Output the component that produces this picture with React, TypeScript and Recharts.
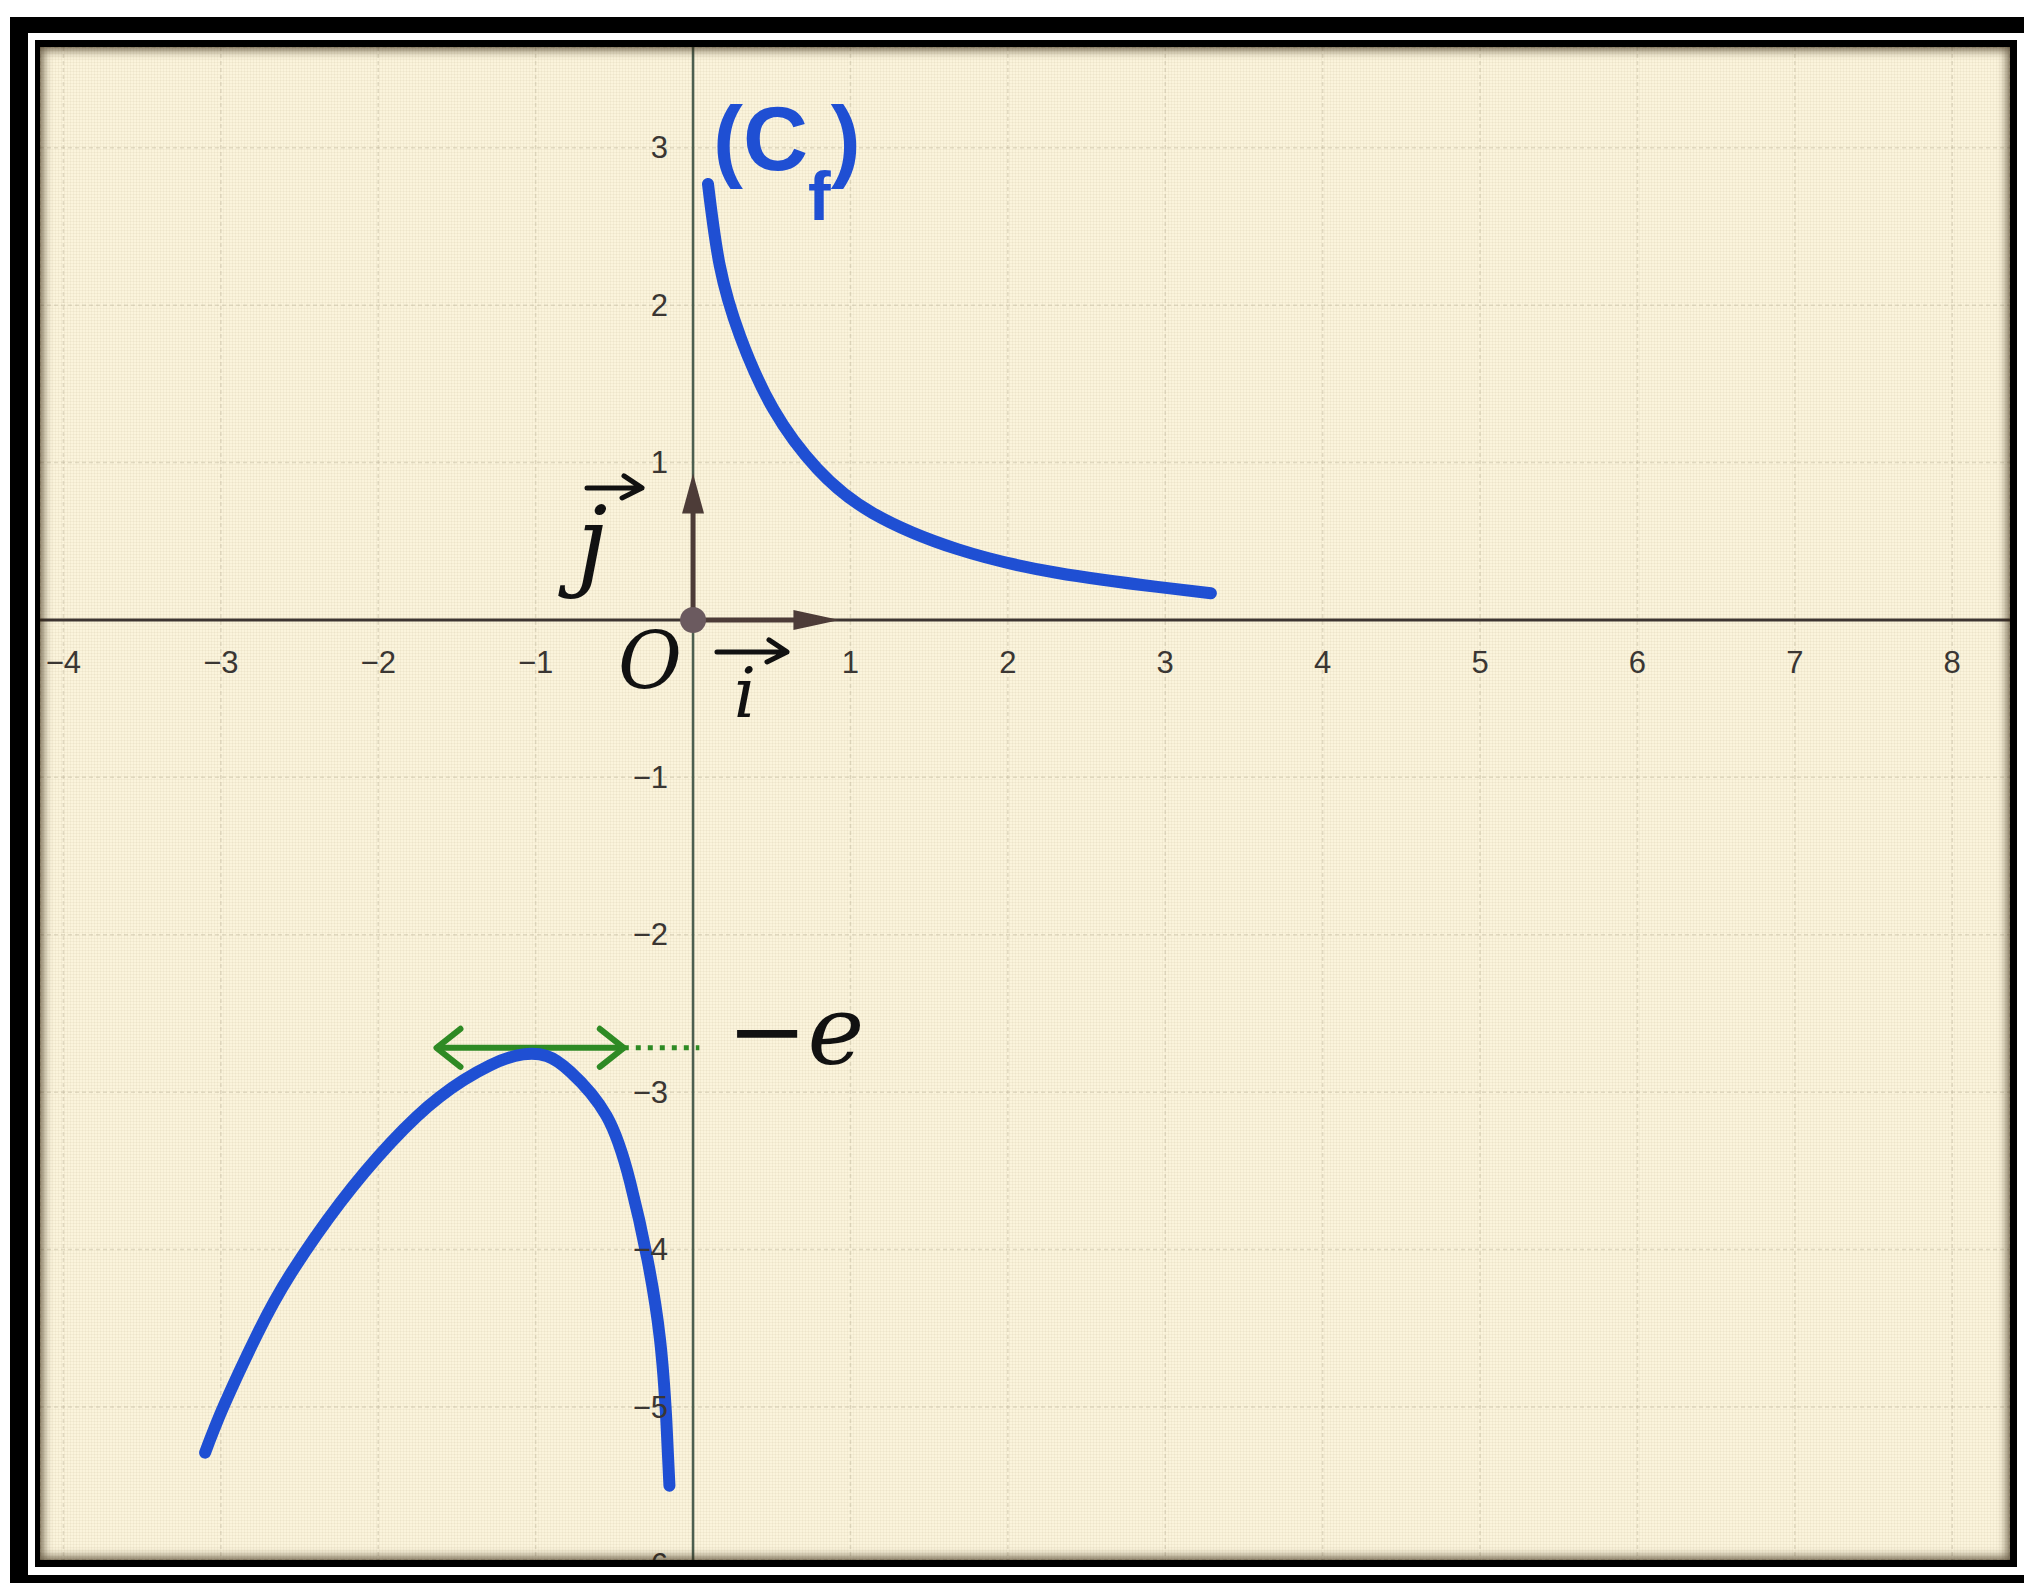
import React from "react";
import { CartesianGrid, ComposedChart, Line, ReferenceDot, XAxis, YAxis } from "recharts";

// tick labels printed along the axes
const xTicks = [-4, -3, -2, -1, 1, 2, 3, 4, 5, 6, 7, 8];
const yTicks = [3, 2, 1, -1, -2, -3, -4, -5, -6];
const gridX = [-4, -3, -2, -1, 0, 1, 2, 3, 4, 5, 6, 7, 8];
const gridY = [-6, -5, -4, -3, -2, -1, 0, 1, 2, 3];

// branch of (Cf) for x > 0
const rightBranch = [
  { x: 0.095, y: 2.77 },
  { x: 0.17, y: 2.25 },
  { x: 0.3, y: 1.8 },
  { x: 0.51, y: 1.34 },
  { x: 0.79, y: 0.96 },
  { x: 1.14, y: 0.68 },
  { x: 1.68, y: 0.45 },
  { x: 2.31, y: 0.3 },
  { x: 2.95, y: 0.21 },
  { x: 3.29, y: 0.17 },
];

// branch of (Cf) for x < 0, maximum at x = -1
const leftBranch = [
  { x: -3.1, y: -5.29 },
  { x: -2.98, y: -4.99 },
  { x: -2.77, y: -4.54 },
  { x: -2.56, y: -4.16 },
  { x: -2.24, y: -3.7 },
  { x: -1.92, y: -3.32 },
  { x: -1.61, y: -3.03 },
  { x: -1.29, y: -2.83 },
  { x: -1.08, y: -2.76 },
  { x: -0.93, y: -2.77 },
  { x: -0.78, y: -2.87 },
  { x: -0.55, y: -3.15 },
  { x: -0.4, y: -3.57 },
  { x: -0.29, y: -4.06 },
  { x: -0.21, y: -4.57 },
  { x: -0.17, y: -5.08 },
  { x: -0.15, y: -5.5 },
];

// horizontal tangent at the maximum, y = -e
const tangent = [
  { x: -1.63, y: -2.718 },
  { x: -0.44, y: -2.718 },
];
const tangentGuide = [
  { x: -0.44, y: -2.718 },
  { x: 0.04, y: -2.718 },
];

// unit vectors i and j
const vecI = [
  { x: 0, y: 0 },
  { x: 0.75, y: 0 },
];
const vecJ = [
  { x: 0, y: 0 },
  { x: 0, y: 0.75 },
];

const W = 1970;
const H = 1513;
const BLUE = "#1f4fd3";
const GREEN = "#2e8a24";
const VEC = "#4d3c38";
const HAND = "DejaVu Serif, serif";
const SANS = "Liberation Sans, Arial, sans-serif";

const chevron = (cx: number, cy: number, dir: number) => (
  <path
    d={`M${cx - dir * 24} ${cy - 19} L${cx} ${cy} L${cx - dir * 24} ${cy + 19}`}
    fill="none"
    stroke={GREEN}
    strokeWidth={6}
    strokeLinecap="round"
    strokeLinejoin="round"
  />
);

const smallArrow = (x1: number, x2: number, y: number) => (
  <path
    d={`M${x1} ${y} L${x2} ${y} M${x2 - 18} ${y - 12} L${x2} ${y} L${x2 - 20} ${y + 10}`}
    fill="none"
    stroke="#111"
    strokeWidth={5}
    strokeLinecap="round"
    strokeLinejoin="round"
  />
);

export default function App() {
  return (
    <div
      style={{
        position: "absolute",
        left: 0,
        top: 0,
        width: 2024,
        height: 1583,
        background: "#fff",
        overflow: "hidden",
      }}
    >
      <div style={{ position: "absolute", left: 10, top: 17, width: 2100, height: 1600, background: "#000" }} />
      <div style={{ position: "absolute", left: 28, top: 33, width: 2100, height: 1542, background: "#fff" }} />
      <div style={{ position: "absolute", left: 35, top: 40, width: 1982, height: 1527, background: "#000" }} />
      <div
        style={{
          position: "absolute",
          left: 40,
          top: 47,
          width: W,
          height: H,
          backgroundColor: "#fbf4dc",
          backgroundImage:
            "repeating-linear-gradient(0deg, rgba(150,130,90,0.07) 0 1px, transparent 1px 3px), repeating-linear-gradient(90deg, rgba(150,130,90,0.07) 0 1px, transparent 1px 3px)",
        }}
      >
        <ComposedChart width={W} height={H} margin={{ top: 0, right: 0, bottom: 0, left: 0 }}>
          <XAxis type="number" dataKey="x" domain={[-4.149, 8.367]} ticks={gridX} allowDataOverflow hide />
          <YAxis type="number" dataKey="y" domain={[-5.972, 3.64]} ticks={gridY} allowDataOverflow hide />
          <CartesianGrid stroke="#a99f86" strokeOpacity={0.3} strokeWidth={1.5} strokeDasharray="4 3" />

          {/* axes through the origin */}
          <Line data={[{ x: -4.149, y: 0 }, { x: 8.367, y: 0 }]} dataKey="y" stroke="#3d3431" strokeWidth={3} dot={false} isAnimationActive={false} />
          <Line data={[{ x: 0, y: -5.972 }, { x: 0, y: 3.64 }]} dataKey="y" stroke="#4c5f50" strokeWidth={2.5} dot={false} isAnimationActive={false} />

          <Line data={vecI} dataKey="y" stroke={VEC} strokeWidth={5} dot={false} isAnimationActive={false} />
          <Line data={vecJ} dataKey="y" stroke={VEC} strokeWidth={5} dot={false} isAnimationActive={false} />
          <ReferenceDot
            x={0.93}
            y={0}
            r={0}
            ifOverflow="visible"
            shape={(p: any) => (
              <polygon points={`${p.cx},${p.cy} ${p.cx - 46},${p.cy - 10} ${p.cx - 46},${p.cy + 10}`} fill={VEC} />
            )}
          />
          <ReferenceDot
            x={0}
            y={0.93}
            r={0}
            ifOverflow="visible"
            shape={(p: any) => (
              <polygon points={`${p.cx},${p.cy} ${p.cx - 11},${p.cy + 40} ${p.cx + 11},${p.cy + 40}`} fill={VEC} />
            )}
          />
          <ReferenceDot x={0} y={0} r={13} fill="#6b5a5f" stroke="none" ifOverflow="visible" />

          {/* tangent at the maximum */}
          <Line data={tangentGuide} dataKey="y" stroke={GREEN} strokeWidth={5} strokeDasharray="5 7" dot={false} isAnimationActive={false} />
          <Line data={tangent} dataKey="y" stroke={GREEN} strokeWidth={6} dot={false} isAnimationActive={false} />
          <ReferenceDot x={tangent[0].x} y={tangent[0].y} r={0} ifOverflow="visible" shape={(p: any) => chevron(p.cx, p.cy, -1)} />
          <ReferenceDot x={tangent[1].x} y={tangent[1].y} r={0} ifOverflow="visible" shape={(p: any) => chevron(p.cx, p.cy, 1)} />

          {/* the curve (Cf) */}
          <Line data={rightBranch} dataKey="y" type="natural" stroke={BLUE} strokeWidth={12} strokeLinecap="round" dot={false} isAnimationActive={false} />
          <Line data={leftBranch} dataKey="y" type="natural" stroke={BLUE} strokeWidth={12} strokeLinecap="round" dot={false} isAnimationActive={false} />

          {/* tick labels */}
          {xTicks.map((t) => (
            <ReferenceDot
              key={`x${t}`}
              x={t}
              y={0}
              r={0}
              ifOverflow="visible"
              shape={(p: any) => (
                <text x={p.cx} y={p.cy + 43} textAnchor="middle" dominantBaseline="central" fontFamily={SANS} fontSize={31} fill="#3a3633">
                  {t < 0 ? `−${-t}` : t}
                </text>
              )}
            />
          ))}
          {yTicks.map((t) => (
            <ReferenceDot
              key={`y${t}`}
              x={0}
              y={t}
              r={0}
              ifOverflow="visible"
              shape={(p: any) => (
                <text x={p.cx - 25} y={p.cy} textAnchor="end" dominantBaseline="central" fontFamily={SANS} fontSize={31} fill="#3a3633">
                  {t < 0 ? `−${-t}` : t}
                </text>
              )}
            />
          ))}

          {/* hand-written notes */}
          <ReferenceDot
            x={-0.273}
            y={-0.26}
            r={0}
            ifOverflow="visible"
            shape={(p: any) => (
              <text x={p.cx} y={p.cy} textAnchor="middle" dominantBaseline="central" fontFamily={HAND} fontStyle="italic" fontSize={78} fill="#111">
                O
              </text>
            )}
          />
          <ReferenceDot
            x={0.33}
            y={-0.457}
            r={0}
            ifOverflow="visible"
            shape={(p: any) => (
              <g>
                {smallArrow(p.cx - 28, p.cx + 42, p.cy - 40)}
                <text x={p.cx} y={p.cy + 25} textAnchor="middle" fontFamily={HAND} fontStyle="italic" fontSize={70} fill="#111">
                  i
                </text>
              </g>
            )}
          />
          <ReferenceDot
            x={-0.642}
            y={0.426}
            r={0}
            ifOverflow="visible"
            shape={(p: any) => (
              <g>
                {smallArrow(p.cx - 5, p.cx + 50, p.cy - 65)}
                <text x={p.cx} y={p.cy + 24} textAnchor="middle" fontFamily={HAND} fontStyle="italic" fontSize={100} fill="#111">
                  j
                </text>
              </g>
            )}
          />
          <ReferenceDot
            x={0.216}
            y={-2.718}
            r={0}
            ifOverflow="visible"
            shape={(p: any) => (
              <text x={p.cx} y={p.cy + 16} textAnchor="start" fontFamily={HAND} fontStyle="italic" fontSize={96} fill="#111">
                −e
              </text>
            )}
          />
          <ReferenceDot
            x={0.127}
            y={2.86}
            r={0}
            ifOverflow="visible"
            shape={(p: any) => (
              <text x={p.cx} y={p.cy} textAnchor="start" fontFamily={SANS} fontWeight="bold" fontSize={90} fill={BLUE}>
                (C
                <tspan fontSize={68} dy={50}>f</tspan>
                <tspan dy={-50}>)</tspan>
              </text>
            )}
          />
        </ComposedChart>
        <div
          style={{
            position: "absolute",
            left: 0,
            top: 0,
            width: W,
            height: H,
            pointerEvents: "none",
            boxShadow: "inset 0 0 10px 3px rgba(45,32,10,0.7)",
          }}
        />
      </div>
    </div>
  );
}
